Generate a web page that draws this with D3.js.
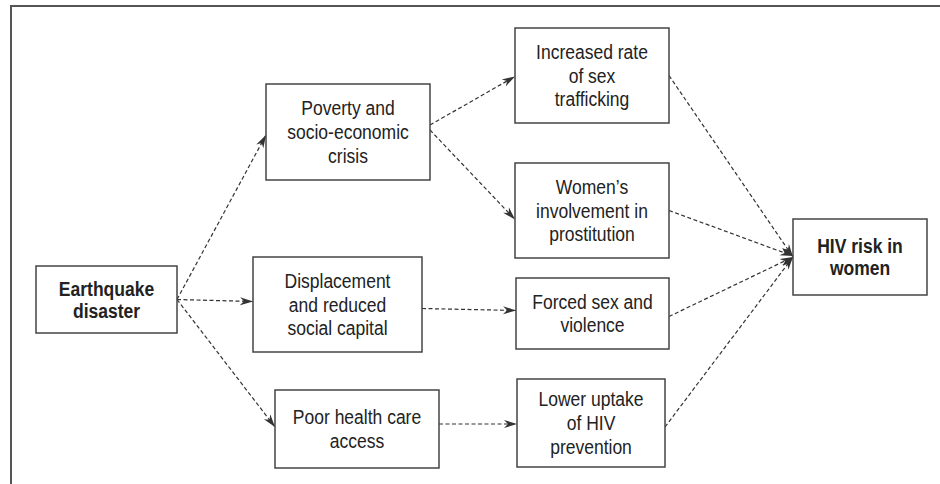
<!DOCTYPE html>
<html>
<head>
<meta charset="utf-8">
<script src="https://cdn.jsdelivr.net/npm/d3@7"></script>
<style>
  html, body { margin: 0; padding: 0; background: #fff; }
  svg { display: block; }
</style>
</head>
<body>
<div id="chart"></div>
<script>
// node ids and their text lines
var nodeIds = ["quake", "poverty", "displace", "health", "traffic", "prostit", "forced", "uptake", "hiv"];
var nodeLines = [
    ["Earthquake", "disaster"],
    ["Poverty and", "socio-economic", "crisis"],
    ["Displacement", "and reduced", "social capital"],
    ["Poor health care", "access"],
    ["Increased rate", "of sex", "trafficking"],
    ["Women\u2019s", "involvement in", "prostitution"],
    ["Forced sex and", "violence"],
    ["Lower uptake", "of HIV", "prevention"],
    ["HIV risk in", "women"]
];
var boldNodes = ["quake", "hiv"];

// edges of the diagram
var linkSources = ["quake", "quake", "quake", "poverty", "poverty", "displace", "health", "traffic", "prostit", "forced", "uptake"];
var linkTargets = ["poverty", "displace", "health", "traffic", "prostit", "forced", "uptake", "hiv", "hiv", "hiv", "hiv"];

// layout: box corners [x0, y0, x1, y1]
var boxes = {
    quake:    [36, 266, 177, 333],
    poverty:  [266, 84, 430, 180],
    displace: [253, 257, 422, 352],
    health:   [275, 390, 439, 468],
    traffic:  [515, 28, 669, 123],
    prostit:  [515, 163, 669, 258],
    forced:   [516, 278, 669, 349],
    uptake:   [517, 379, 665, 467],
    hiv:      [793, 219, 927, 295]
};
// small vertical shifts of the arrow ends from box centres [source dy, target dy]
var anchorShift = [[0, 3], [0, -3], [0, -2], [-7, 1], [-2, 9], [4, -3], [-5, 1], [0, 0], [0, -1], [3, 0], [4, 0]];

var width = 940, height = 484;
var fontSize = 20;

var svg = d3.select("#chart").append("svg")
    .attr("width", width)
    .attr("height", height);

svg.append("defs").append("marker")
    .attr("id", "arrow")
    .attr("viewBox", "0 -5 13 10")
    .attr("refX", 13)
    .attr("refY", 0)
    .attr("markerWidth", 13)
    .attr("markerHeight", 10)
    .attr("markerUnits", "userSpaceOnUse")
    .attr("orient", "auto")
    .append("path")
    .attr("d", "M0,-4L13,0L0,4L4,0Z")
    .attr("fill", "#333");

// outer frame (right and bottom edges fall outside the picture)
svg.append("rect")
    .attr("x", 11)
    .attr("y", 6)
    .attr("width", 960)
    .attr("height", 500)
    .attr("fill", "none")
    .attr("stroke", "#555")
    .attr("stroke-width", 2);

var nodes = nodeIds.map(function (id, i) {
    var b = boxes[id];
    return {id: id, lines: nodeLines[i], bold: boldNodes.indexOf(id) >= 0,
        x0: b[0], y0: b[1], x1: b[2], y1: b[3],
        cx: (b[0] + b[2]) / 2, cy: (b[1] + b[3]) / 2};
});
var byId = {};
nodes.forEach(function (n) { byId[n.id] = n; });

var links = linkSources.map(function (s, i) {
    var a = byId[s], b = byId[linkTargets[i]];
    return {x1: a.x1, y1: a.cy + anchorShift[i][0], x2: b.x0, y2: b.cy + anchorShift[i][1]};
});

svg.selectAll("line.link")
    .data(links)
    .enter()
    .append("line")
    .attr("class", "link")
    .attr("x1", function (d) { return d.x1; })
    .attr("y1", function (d) { return d.y1; })
    .attr("x2", function (d) { return d.x2; })
    .attr("y2", function (d) { return d.y2; })
    .attr("stroke", "#333")
    .attr("stroke-width", 1.2)
    .attr("stroke-dasharray", "4,2.5")
    .attr("marker-end", "url(#arrow)");

var g = svg.selectAll("g.node")
    .data(nodes)
    .enter()
    .append("g")
    .attr("class", "node");

g.append("rect")
    .attr("x", function (d) { return d.x0; })
    .attr("y", function (d) { return d.y0; })
    .attr("width", function (d) { return d.x1 - d.x0; })
    .attr("height", function (d) { return d.y1 - d.y0; })
    .attr("fill", "#fff")
    .attr("stroke", "#444")
    .attr("stroke-width", 1.5);

var txt = g.append("text")
    .attr("transform", function (d) {
        return "translate(" + d.cx + "," + d.cy + ") scale(0.875,1)";
    })
    .attr("text-anchor", "middle")
    .attr("font-family", "'Liberation Sans', Arial, Helvetica, sans-serif")
    .attr("font-size", fontSize)
    .attr("font-weight", function (d) { return d.bold ? "bold" : "normal"; })
    .attr("fill", "#222");

txt.selectAll("tspan")
    .data(function (d) {
        var n = d.lines.length, lh = d.bold ? 22 : 24;
        return d.lines.map(function (l, i) { return {text: l, dy: (i - (n - 1) / 2) * lh}; });
    })
    .enter()
    .append("tspan")
    .attr("x", 0)
    .attr("y", function (d) { return d.dy + fontSize * 0.35; })
    .text(function (d) { return d.text; });
</script>
</body>
</html>
